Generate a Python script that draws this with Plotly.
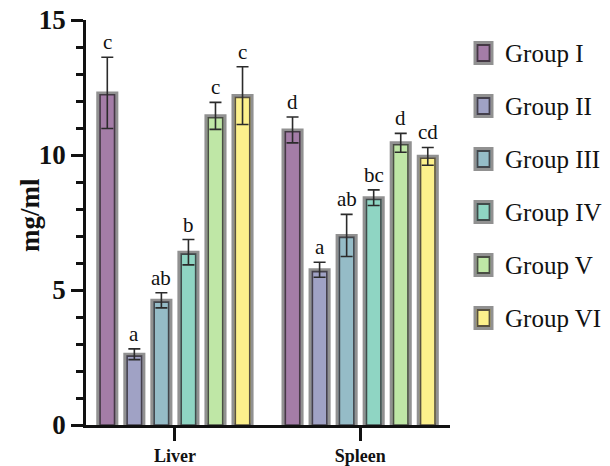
import plotly.graph_objects as go

tissues = ["Liver", "Spleen"]
groups = ["Group I", "Group II", "Group III", "Group IV", "Group V", "Group VI"]
colors = ["#a47da7", "#a0a2c5", "#95bcc7", "#8fd5c3", "#bfe7a6", "#fcf08c"]

# means per group: [Liver, Spleen]
means = {
    "Group I":   [12.3, 10.93],
    "Group II":  [2.62, 5.75],
    "Group III": [4.62, 7.02],
    "Group IV":  [6.40, 8.42],
    "Group V":   [11.45, 10.45],
    "Group VI":  [12.2, 9.95],
}
errors = {
    "Group I":   [1.32, 0.48],
    "Group II":  [0.2, 0.28],
    "Group III": [0.28, 0.78],
    "Group IV":  [0.47, 0.29],
    "Group V":   [0.5, 0.35],
    "Group VI":  [1.07, 0.33],
}
letters = {
    "Group I":   ["c", "d"],
    "Group II":  ["a", "a"],
    "Group III": ["ab", "ab"],
    "Group IV":  ["b", "bc"],
    "Group V":   ["c", "d"],
    "Group VI":  ["c", "cd"],
}
yticks = [0, 5, 10, 15]
y_title = "mg/ml"

FONT = "Liberation Serif"
pitch = 0.146      # spacing between bars within a cluster (x units)
bw_outer = 0.103   # bar with light outer border
bw_inner = 0.078   # inner bar with dark border
inset = 0.07       # y units, pushes inner dark border below the outer band
OUTER = "#919191"
INNER = "rgba(45,40,45,0.8)"

fig = go.Figure()
annotations = []
shapes = []
for i, g in enumerate(groups):
    xs = [k + (i - 2.5) * pitch for k in range(len(tissues))]
    fig.add_trace(go.Bar(
        x=xs, y=means[g], width=bw_outer, name=g,
        marker=dict(color=colors[i], line=dict(color=OUTER, width=3)),
        showlegend=False, hoverinfo="skip",
    ))
    fig.add_trace(go.Bar(
        x=xs, y=[m - inset for m in means[g]], width=bw_inner, name=g,
        marker=dict(color=colors[i], line=dict(color=INNER, width=1.6)),
        showlegend=False,
    ))
    # error bars drawn from the true means
    fig.add_trace(go.Scatter(
        x=xs, y=means[g], mode="markers", marker=dict(size=1, color="rgba(0,0,0,0)"),
        error_y=dict(type="data", array=errors[g], arrayminus=errors[g],
                     color="#2b2b2b", thickness=1.6, width=6),
        showlegend=False, hoverinfo="skip",
    ))
    for k in range(len(tissues)):
        annotations.append(dict(
            x=xs[k], y=means[g][k] + errors[g][k], xref="x", yref="y",
            text=letters[g][k], showarrow=False, yanchor="bottom", yshift=1,
            font=dict(family=FONT, size=21, color="#111111"),
        ))
    # custom legend (paper coords relative to plot area)
    yc = 1 - (53 + i * 53 - 20) / 405.0
    shapes.append(dict(
        type="rect", xref="paper", yref="paper",
        x0=1 + (475 - 450) / 364.0, x1=1 + (492 - 450) / 364.0,
        y0=yc - 10.5 / 405.0, y1=yc + 10.5 / 405.0,
        fillcolor=colors[i], line=dict(color=OUTER, width=3),
    ))
    shapes.append(dict(
        type="rect", xref="paper", yref="paper",
        x0=1 + (477.5 - 450) / 364.0, x1=1 + (489.5 - 450) / 364.0,
        y0=yc - 8 / 405.0, y1=yc + 8 / 405.0,
        fillcolor=colors[i], line=dict(color=INNER, width=1.8),
    ))
    annotations.append(dict(
        x=1 + (503 - 450) / 364.0, y=yc, xref="paper", yref="paper",
        text=g, showarrow=False, xanchor="left", yanchor="middle",
        font=dict(family=FONT, size=25, color="#111111"),
    ))

# y-axis title
annotations.append(dict(
    x=(30 - 86) / 364.0, y=1 - (215 - 20) / 405.0, xref="paper", yref="paper",
    text=y_title, textangle=-90, showarrow=False, xanchor="center", yanchor="middle",
    font=dict(family=FONT, size=27, color="#111111", weight="bold"),
))

fig.update_layout(
    width=610, height=466,
    margin=dict(l=86, r=160, t=20, b=41),
    plot_bgcolor="white", paper_bgcolor="white",
    barmode="overlay",
    annotations=annotations, shapes=shapes,
    font=dict(family=FONT, color="#111111"),
    xaxis=dict(
        range=[-0.48, 1.485], tickvals=list(range(len(tissues))), ticktext=tissues,
        showline=True, linecolor="#111111", linewidth=2.5,
        ticks="outside", ticklen=13, tickwidth=2.5, tickcolor="#111111",
        tickfont=dict(family=FONT, size=18, color="#111111", weight="bold"),
        showgrid=False, zeroline=False, automargin=False, ticklabeloverflow="allow",
    ),
    yaxis=dict(
        range=[0, 15.001], tickvals=yticks,
        showline=True, linecolor="#111111", linewidth=2.5,
        ticks="outside", ticklen=12, tickwidth=2.5, tickcolor="#111111",
        tickfont=dict(family=FONT, size=27, color="#111111", weight="bold"),
        minor=dict(dtick=1, ticks="outside", ticklen=7, tickwidth=2.5, tickcolor="#111111", showgrid=False),
        showgrid=False, zeroline=False, automargin=False, ticklabeloverflow="allow",
    ),
)

# remove the browser's default 8px body margin so the figure fills the window
fig.write_html("out.html", config={"displayModeBar": False},
               post_script="document.body.style.margin='0';")
